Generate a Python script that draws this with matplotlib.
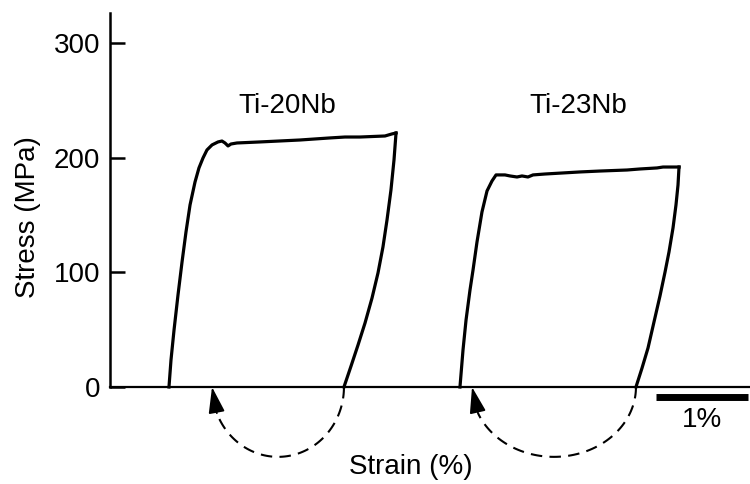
import numpy as np
import matplotlib
matplotlib.use("Agg")
import matplotlib.pyplot as plt
from matplotlib.patches import ArrowStyle

plt.rcParams['font.family'] = ['Liberation Sans', 'DejaVu Sans']

# Ti-20Nb load / unload (strain %, stress MPa)
ti20_load_strain = [0.641, 0.663, 0.696, 0.739, 0.783, 0.826, 0.870, 0.924, 0.967, 1.011,
                    1.054, 1.109, 1.174, 1.217, 1.250, 1.283, 1.315, 1.380, 1.630, 2.065,
                    2.391, 2.554, 2.717, 2.989, 3.065, 3.109]
ti20_load_stress = [0, 23.6, 49.8, 80.3, 109.2, 135.4, 159.0, 179.0, 191.3, 200.0,
                    207.0, 211.4, 214.0, 214.8, 213.1, 210.5, 212.2, 213.1, 214.0, 215.7,
                    217.5, 218.3, 218.3, 219.2, 221.0, 221.8]
ti20_unload_strain = [3.109, 3.087, 3.054, 3.011, 2.967, 2.913, 2.848, 2.772, 2.696, 2.620, 2.543]
ti20_unload_stress = [221.8, 198.3, 172.1, 145.9, 122.3, 99.6, 77.7, 55.9, 36.7, 18.3, 0]

# Ti-23Nb load / unload
ti23_load_strain = [3.804, 3.837, 3.870, 3.913, 3.946, 3.989, 4.043, 4.098, 4.152, 4.196,
                    4.293, 4.348, 4.424, 4.478, 4.543, 4.598, 4.728, 5.109, 5.326, 5.620,
                    5.761, 5.946, 6.011, 6.109, 6.185]
ti23_load_stress = [0, 32.3, 58.5, 84.7, 102.2, 126.6, 152.8, 171.2, 179.9, 185.2,
                    185.2, 184.3, 183.4, 184.3, 183.4, 185.2, 186.0, 187.8, 188.6, 189.5,
                    190.4, 191.3, 192.1, 192.1, 192.1]
ti23_unload_strain = [6.185, 6.174, 6.152, 6.120, 6.076, 6.033, 5.978, 5.913, 5.848, 5.783, 5.717]
ti23_unload_stress = [192.1, 176.4, 159.0, 139.1, 117.9, 100.4, 79.5, 56.8, 34.1, 16.6, 0]

# shape recovery on heating: residual strain -> recovered strain
recovery_from = [2.543, 5.717]
recovery_to = [1.109, 3.935]
alloy_names = ['Ti-20Nb', 'Ti-23Nb']
label_pos = [(1.924, 245.4), (5.087, 245.4)]

yticks = [0, 100, 200, 300]

fig = plt.figure(figsize=(7.5, 4.84), dpi=100)
ax = fig.add_axes([110 / 750, 0, 640 / 750, 471 / 484])
ax.set_xlim(0, 640 / 92)
ax.set_ylim(-84.7, 326.6)

lw = 2.3
ax.plot(ti20_load_strain, ti20_load_stress, color='k', lw=lw, solid_joinstyle='round')
ax.plot(ti20_unload_strain, ti20_unload_stress, color='k', lw=lw, solid_joinstyle='round')
ax.plot(ti23_load_strain, ti23_load_stress, color='k', lw=lw, solid_joinstyle='round')
ax.plot(ti23_unload_strain, ti23_unload_stress, color='k', lw=lw, solid_joinstyle='round')

# dashed recovery arcs with arrowheads
depth = 61
for x0, x1 in zip(recovery_from, recovery_to):
    cx = (x0 + x1) / 2
    a = (x0 - x1) / 2
    t = np.radians(np.linspace(0, -158, 80))
    ax.plot(cx + a * np.cos(t), depth * np.sin(t), color='k', lw=1.5,
            dashes=(5.5, 3.5))
    ts = np.radians(-158)
    style = ArrowStyle('-|>', head_length=0.8, head_width=0.25)
    ax.annotate('', xy=(x1, 0), xytext=(cx + a * np.cos(ts), depth * np.sin(ts)),
                arrowprops=dict(arrowstyle=style, color='k', lw=1.3,
                                mutation_scale=20, shrinkA=0, shrinkB=0))

for name, (x, y) in zip(alloy_names, label_pos):
    ax.text(x, y, name, fontsize=20, ha='center', va='center')

# 1% scale bar
ax.plot([5.935, 6.935], [-8.7, -8.7], color='k', lw=5, solid_capstyle='butt')
ax.text(6.435, -28.8, '1%', fontsize=20, ha='center', va='center')

for s in ['top', 'right']:
    ax.spines[s].set_visible(False)
ax.spines['bottom'].set_position(('data', 0))
ax.spines['bottom'].set_linewidth(1.6)
ax.spines['left'].set_bounds(0, 326.6)
ax.spines['left'].set_linewidth(1.8)
ax.set_xticks([])
ax.set_yticks(yticks)
ax.tick_params(axis='y', direction='in', length=11, width=1.8, pad=7, labelsize=20)
ax.patch.set_alpha(0)

fig.text(28 / 750, 1 - 217 / 484, 'Stress (MPa)', rotation=90, fontsize=20,
         ha='center', va='center')
fig.text(411 / 750, 1 - 467 / 484, 'Strain (%)', fontsize=20, ha='center', va='center')

fig.savefig('out.png', dpi=100)
